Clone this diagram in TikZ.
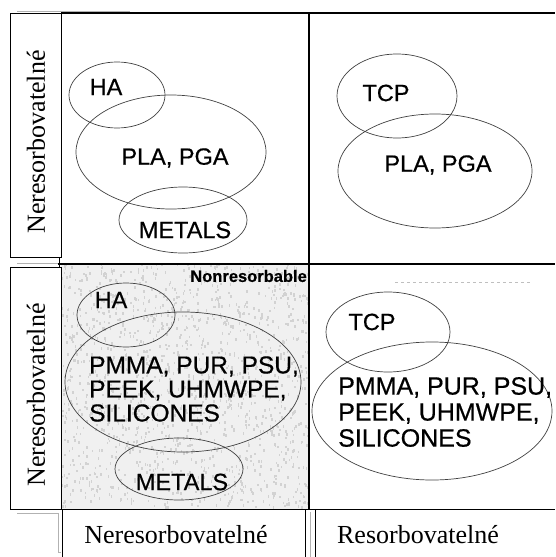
\documentclass[tikz,border=0pt]{standalone}
\usepackage{fontspec}
\setmainfont{Liberation Serif}
\setsansfont[FakeBold=0.6]{Liberation Sans}
\usetikzlibrary{shapes.geometric}
\begin{document}
\begin{tikzpicture}[x=1pt,y=-1pt,
  venn/.style={draw=black!75, line width=0.7pt, ellipse, inner sep=0pt},
  lbl/.style={font=\sffamily\fontsize{23.5}{24}\selectfont, inner sep=0pt},
  axislbl/.style={font=\fontsize{26}{30}\selectfont, inner sep=0pt},
  framel/.style={line width=1.4pt},
  thinl/.style={line width=0.9pt},
  ghost/.style={draw=gray!60, line width=0.8pt}]
\useasboundingbox (0,0) rectangle (555,557);
% stippled grey cell
\fill[gray!12] (61,264) rectangle (309,509);
\begin{scope}
  \clip (61,264) rectangle (309,509);
  \pgfmathsetseed{11}
  \foreach \i in {1,...,1500}{
    \pgfmathsetmacro\xx{61+248*rnd}
    \pgfmathsetmacro\yy{264+245*rnd}
    \fill[gray!35] (\xx,\yy) rectangle ++(1.6,-2.6);
  }
\end{scope}
% frame lines
\draw[ghost] (17,11) -- (130,11);
\draw[framel] (61,13) -- (555,13);
\draw[ghost] (17,263) -- (58,263);
\draw[framel] (58,264) -- (555,264);
\draw[thinl] (59,257) -- (59,267);
\draw[framel] (309,13) -- (309,509);
\draw[thinl] (61,509) -- (555,509);
% left label boxes
\node[draw, thinl, minimum width=51pt, minimum height=244pt, inner sep=0pt] (yb1) at (35.5,135) {};
\node[axislbl, rotate=90] (yt1) at (36,142) {Neresorbovatelné};
\node[draw, thinl, minimum width=51pt, minimum height=242pt, inner sep=0pt] (yb2) at (35.5,388) {};
\node[axislbl, rotate=90] (yt2) at (36,395) {Neresorbovatelné};
% bottom label boxes
\draw[ghost] (17,513) -- (58,513);
\draw[ghost] (58,513) -- (58,552) -- (61,552);
\draw[thinl] (62,557) -- (62,509) -- (305,509) -- (305,557);
\draw[ghost] (310,512) -- (310,557);
\draw[thinl] (315,557) -- (315,509) -- (555,509);
\node[axislbl] (xt1) at (176,535) {Neresorbovatelné};
\node[axislbl] (xt2) at (418,535) {Resorbovatelné};
% top-left cell
\node[venn, minimum width=96pt, minimum height=66pt] (e1) at (117,95) {};
\node[venn, minimum width=190pt, minimum height=114pt] (e2) at (171,152) {};
\node[venn, minimum width=128pt, minimum height=66pt] (e3) at (183,220) {};
\node[lbl] (t1) at (106,87) {HA};
\node[lbl] (t2) at (175,158) {PLA, PGA};
\node[lbl] (t3) at (185,230) {METALS};
% top-right cell
\node[venn, minimum width=120pt, minimum height=84pt] (e4) at (397,96) {};
\node[venn, minimum width=194pt, minimum height=114pt] (e5) at (435,171) {};
\node[lbl] (t4) at (386,93) {TCP};
\node[lbl] (t5) at (438,165) {PLA, PGA};
% bottom-left cell
\node[font=\sffamily\bfseries\fontsize{16.5}{18}\selectfont, anchor=east, inner sep=0pt] (nr) at (307,276) {Nonresorbable};
\node[venn, minimum width=98pt, minimum height=64pt] (e6) at (126,315) {};
\node[venn, minimum width=236pt, minimum height=140pt] (e7) at (183,382) {};
\node[venn, minimum width=128pt, minimum height=62pt] (e8) at (179,469) {};
\node[lbl] (t6) at (111,300) {HA};
\node[lbl, align=left, anchor=west, font=\sffamily\fontsize{24.5}{24}\selectfont] (t7) at (89,389) {PMMA, PUR, PSU,\\PEEK, UHMWPE,\\SILICONES};
\node[lbl] (t8) at (182,482) {METALS};
% bottom-right cell
\draw[draw=gray!50, dashed, line width=0.6pt] (395,282) -- (530,282);
\node[venn, minimum width=124pt, minimum height=80pt] (e9) at (388,332) {};
\node[venn, minimum width=240pt, minimum height=138pt] (e10) at (432,411) {};
\node[lbl] (t9) at (372,322) {TCP};
\node[lbl, align=left, anchor=west, font=\sffamily\fontsize{25}{26}\selectfont] (t10) at (338,412) {PMMA, PUR, PSU,\\PEEK, UHMWPE,\\SILICONES};
\end{tikzpicture}
\end{document}
